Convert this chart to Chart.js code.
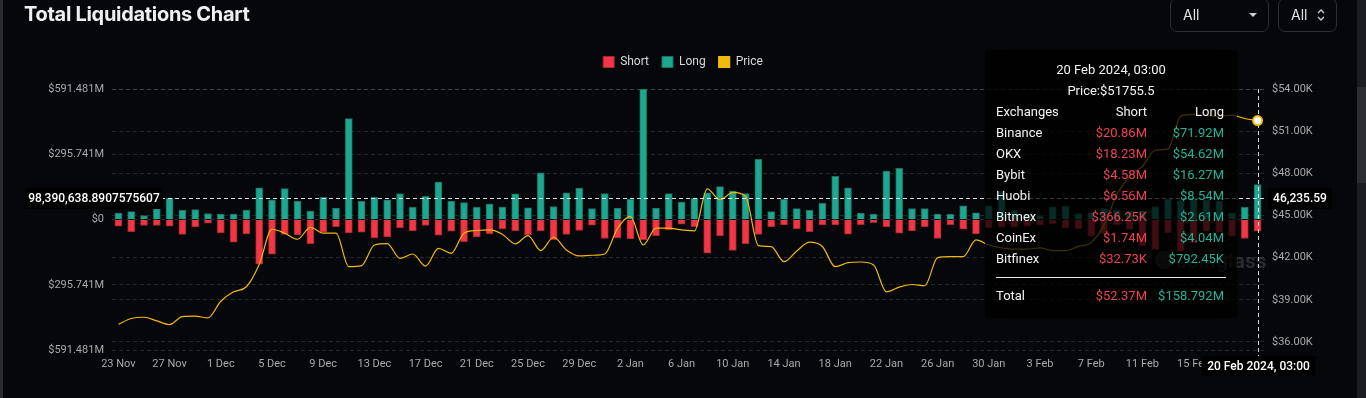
<!DOCTYPE html>
<html>
<head>
<meta charset="utf-8">
<title>Total Liquidations Chart</title>
<script src="https://cdn.jsdelivr.net/npm/chart.js@4.4.1/dist/chart.umd.min.js"></script>
<style>
  html, body { margin: 0; padding: 0; width: 1366px; height: 398px; overflow: hidden; background: #05070b; font-family: Roboto, "Noto Sans", sans-serif; }
  #wrap { position: absolute; left: 0; top: 0; width: 1366px; height: 398px; }
  #edge { position: absolute; left: 0; top: 0; width: 3px; height: 398px; background: #2a2b2f; }
  #scroll { position: absolute; left: 1357px; top: 0; width: 9px; height: 398px; background: #1c1d21; }
  #thumb { position: absolute; left: 1357px; top: 87px; width: 9px; height: 96px; background: #2c2d32; }
  #title { position: absolute; left: 24px; top: 2px; font: 700 20px Inter, sans-serif; color: #f0f0f0; letter-spacing: -0.3px; }
  .sel { position: absolute; top: -2px; height: 34px; border: 1px solid #2d2f34; border-radius: 7px; box-sizing: border-box; color: #e2e2e2; font: 14px Inter, sans-serif; line-height: 32px; }
  .sel span { position: absolute; left: 12px; top: 0; }
  .caret { position: absolute; left: 78px; top: 14px; width: 0; height: 0; border-left: 4px solid transparent; border-right: 4px solid transparent; border-top: 4px solid #cfcfcf; }
  .updown { position: absolute; left: 37px; top: 8px; }
  #tip { position: absolute; left: 985px; top: 50px; width: 252px; height: 268px; background: rgba(0, 0, 0, 0.74); color: #f2f2f2; font: 13px Roboto, sans-serif; border-radius: 2px; }
  #tip .c { position: absolute; left: 0; width: 252px; text-align: center; height: 20px; line-height: 20px; }
  #tip .row { position: absolute; left: 0; width: 252px; height: 20px; line-height: 20px; }
  #tip .n { position: absolute; left: 11px; }
  #tip .s { position: absolute; right: 90px; color: #eb4353; }
  #tip .l { position: absolute; right: 13px; color: #22b397; }
  #tip .hd .s, #tip .hd .l { color: #f2f2f2; }
  #tip .sep { position: absolute; left: 11px; top: 227px; width: 230px; height: 1px; background: #e8e8e8; }
</style>
</head>
<body>
<div id="wrap"><canvas id="liq"></canvas></div>
<div id="edge"></div>
<div id="scroll"></div>
<div id="thumb"></div>
<div id="title">Total Liquidations Chart</div>
<div class="sel" style="left:1170px;width:99px;"><span>All</span><div class="caret"></div></div>
<div class="sel" style="left:1278px;width:59px;"><span>All</span>
  <svg class="updown" width="10" height="16" viewBox="0 0 10 16"><path d="M2 6 L5 3 L8 6 M2 10 L5 13 L8 10" stroke="#cfcfcf" stroke-width="1.3" fill="none"/></svg>
</div>
<div id="tip"></div>

<script>
// daily data, 23 Nov 2023 .. 20 Feb 2024 (values in $M for liquidations, $ for price)
const monthNames = ['Jan', 'Feb', 'Mar', 'Apr', 'May', 'Jun', 'Jul', 'Aug', 'Sep', 'Oct', 'Nov', 'Dec'];
const days = [];
for (let t = Date.UTC(2023, 10, 23); t <= Date.UTC(2024, 1, 20); t += 86400000) {
    const d = new Date(t);
    days.push(d.getUTCDate() + ' ' + monthNames[d.getUTCMonth()]);
}

const tickLabels = ['23 Nov', '27 Nov', '1 Dec', '5 Dec', '9 Dec', '13 Dec', '17 Dec', '21 Dec', '25 Dec', '29 Dec',
    '2 Jan', '6 Jan', '10 Jan', '14 Jan', '18 Jan', '22 Jan', '26 Jan', '30 Jan', '3 Feb', '7 Feb', '11 Feb', '15 Feb', '19 Feb'];

const longLiq = [29, 36, 18, 50, 96, 41, 45, 27, 25, 25, 43, 143, 89, 140, 84, 38, 100, 52, 457, 82,
    100, 89, 118, 55, 105, 170, 84, 77, 55, 70, 56, 116, 53, 211, 59, 121, 142, 50, 118, 52,
    91, 591.481, 52, 117, 79, 96, 121, 149, 129, 118, 273, 36, 91, 49, 42, 73, 196, 144, 29, 24,
    220, 232, 50, 50, 24, 23, 62, 30, 62, 128, 40, 23, 18, 57, 61, 27, 30, 49, 42, 38,
    38, 59, 91, 86, 94, 89, 83, 29, 55, 158.792];

const shortLiq = [30, 55, 27, 27, 30, 68, 34, 17, 61, 103, 65, 202, 157, 68, 70, 109, 57, 33, 61, 57,
    84, 79, 38, 52, 27, 71, 53, 100, 79, 65, 43, 52, 70, 52, 91, 68, 49, 26, 86, 83,
    88, 91, 73, 47, 21, 33, 153, 74, 140, 109, 68, 32, 24, 41, 55, 24, 24, 67, 23, 14,
    32, 62, 52, 32, 86, 23, 44, 65, 37, 35, 35, 30, 25, 20, 38, 42, 75, 64, 23, 45,
    121, 136, 61, 144, 106, 53, 58, 76, 86, 52.37];

const price = [37260, 37670, 37760, 37500, 37240, 37810, 37840, 37710, 38900, 39570,
    39930, 41520, 44020, 43740, 43310, 44160, 43740, 43740, 41360, 41430,
    42900, 43000, 41950, 42260, 41400, 42660, 42310, 43740, 43930, 43980,
    43670, 42980, 43570, 42500, 43450, 42550, 42120, 42170, 42260, 44100,
    44930, 42900, 44100, 44100, 43980, 43900, 46900, 46120, 46640, 46360,
    42860, 42790, 41710, 42480, 43100, 42790, 41360, 41640, 41690, 41480,
    39570, 39900, 40090, 40000, 42000, 42070, 42070, 43260, 42900, 42700,
    42600, 42600, 42700, 42500, 42500, 42800, 43070, 44330, 46480, 47790,
    48500, 49640, 49740, 52070, 52190, 52120, 52050, 52140, 51900, 51755.5];

const leftTicks = [-591.481, -295.741, 0, 295.741, 591.481];
const rightTicks = [36000, 39000, 42000, 45000, 48000, 51000, 54000];
const legendOrder = ['Short', 'Long', 'Price'];

// hovered point shown in the reference
const hoverIndex = 89;
const hoverLabel = '20 Feb 2024, 03:00';
const crossLeft = 98390638.8907575607;
const crossLeftText = '98,390,638.8907575607';
const crossRightText = '46,235.59';

// exchange breakdown in the tooltip
const exchanges = ['Binance', 'OKX', 'Bybit', 'Huobi', 'Bitmex', 'CoinEx', 'Bitfinex'];
const exShort = ['$20.86M', '$18.23M', '$4.58M', '$6.56M', '$366.25K', '$1.74M', '$32.73K'];
const exLong = ['$71.92M', '$54.62M', '$16.27M', '$8.54M', '$2.61M', '$4.04M', '$792.45K'];
const totalShort = '$52.37M';
const totalLong = '$158.792M';

const FONT = 'Roboto, "Noto Sans", sans-serif';
const gridColor = 'rgba(255,255,255,0.13)';

// tooltip box (static, as in the screenshot)
(function buildTip() {
    const tip = document.getElementById('tip');
    let html = '<div class="c" style="top:10px">' + hoverLabel + '</div>';
    html += '<div class="c" style="top:31px">Price:$' + price[hoverIndex] + '</div>';
    html += '<div class="row hd" style="top:52px"><span class="n">Exchanges</span><span class="s">Short</span><span class="l">Long</span></div>';
    exchanges.forEach((ex, i) => {
        html += '<div class="row" style="top:' + (73 + i * 21) + 'px"><span class="n">' + ex + '</span><span class="s">' +
            exShort[i] + '</span><span class="l">' + exLong[i] + '</span></div>';
    });
    html += '<div class="sep"></div>';
    html += '<div class="row" style="top:236px"><span class="n">Total</span><span class="s">' + totalShort +
        '</span><span class="l">' + totalLong + '</span></div>';
    tip.innerHTML = html;
})();

const fmtM = v => v === 0 ? '$0' : '$' + Math.abs(v).toFixed(3) + 'M';
const fmtK = v => '$' + (v / 1000).toFixed(2) + 'K';

function tag(ctx, text, x, y, w, h) {
    ctx.fillStyle = '#000';
    ctx.fillRect(x, y, w, h);
    ctx.fillStyle = '#fff';
    ctx.textBaseline = 'middle';
    ctx.textAlign = 'center';
    ctx.fillText(text, x + w / 2, y + h / 2 + 0.5);
}

const overlay = {
    id: 'overlay',
    beforeInit(chart) {
        const fit = chart.legend.fit;
        chart.legend.fit = function () {
            fit.bind(chart.legend)();
            this.height = 46;
        };
    },
    afterDatasetsDraw(chart) {
        const { ctx, chartArea: a, scales } = chart;
        ctx.save();
        // watermark
        ctx.fillStyle = 'rgba(110,110,110,0.35)';
        ctx.font = 'bold 21px ' + FONT;
        ctx.textBaseline = 'middle';
        ctx.textAlign = 'left';
        ctx.fillText('coinglass', 1176, 263);
        ctx.beginPath();
        ctx.arc(1164, 260, 9, 0, Math.PI * 2);
        ctx.fill();

        // crosshair
        const y = Math.round(scales.y.getPixelForValue(crossLeft / 1e6)) + 0.5;
        const x = Math.round(scales.x.getPixelForValue(hoverIndex)) + 0.5;
        ctx.strokeStyle = 'rgba(255,255,255,0.85)';
        ctx.lineWidth = 1;
        ctx.setLineDash([4, 3]);
        ctx.beginPath();
        ctx.moveTo(a.left, y);
        ctx.lineTo(a.right, y);
        ctx.moveTo(x, a.top);
        ctx.lineTo(x, a.bottom + 6);
        ctx.stroke();
        ctx.setLineDash([]);

        ctx.font = '500 12px ' + FONT;
        tag(ctx, crossLeftText, 25, y - 10.5, 138, 21);
        tag(ctx, crossRightText, a.right + 4, y - 10.5, 64, 21);
        tag(ctx, hoverLabel, x - 57, a.bottom + 6, 114, 20);

        // hovered price point
        const pt = chart.getDatasetMeta(2).data[hoverIndex];
        ctx.beginPath();
        ctx.arc(pt.x, pt.y, 4.5, 0, Math.PI * 2);
        ctx.fillStyle = '#fff';
        ctx.fill();
        ctx.lineWidth = 2;
        ctx.strokeStyle = '#f0b90b';
        ctx.stroke();
        ctx.restore();
    }
};

new Chart(document.getElementById('liq'), {
    data: {
        labels: days,
        datasets: [
            {
                type: 'bar',
                label: 'Short',
                data: shortLiq.map(v => -v),
                backgroundColor: '#f23645',
                borderColor: '#a8262f',
                borderWidth: 1,
                barThickness: 7,
                yAxisID: 'y',
                order: 2
            },
            {
                type: 'bar',
                label: 'Long',
                data: longLiq,
                backgroundColor: '#1fa68f',
                borderColor: '#157363',
                borderWidth: 1,
                barThickness: 7,
                yAxisID: 'y',
                order: 1
            },
            {
                type: 'line',
                label: 'Price',
                data: price,
                borderColor: '#f0b90b',
                backgroundColor: '#f0b90b',
                borderWidth: 1.2,
                pointRadius: 0,
                cubicInterpolationMode: 'monotone',
                yAxisID: 'yPrice',
                order: 0
            }
        ]
    },
    options: {
        responsive: true,
        maintainAspectRatio: false,
        animation: false,
        events: [],
        layout: { padding: { top: 43, left: 0, right: 0, bottom: 0 } },
        plugins: {
            legend: {
                position: 'top',
                labels: {
                    color: '#d8d8d8',
                    font: { size: 12, family: FONT },
                    boxWidth: 11,
                    boxHeight: 11,
                    padding: 13,
                    sort: (a, b) => legendOrder.indexOf(a.text) - legendOrder.indexOf(b.text)
                }
            },
            tooltip: { enabled: false }
        },
        scales: {
            x: {
                stacked: true,
                grid: { display: false, drawTicks: false },
                border: { display: false },
                ticks: {
                    autoSkip: false,
                    maxRotation: 0,
                    color: '#a9a9a9',
                    font: { size: 11, family: FONT },
                    padding: 8,
                    callback(v) {
                        const l = this.getLabelForValue(v);
                        return tickLabels.includes(l) ? l : '';
                    }
                },
                afterFit(s) { s.height = 48; }
            },
            y: {
                stacked: true,
                position: 'left',
                min: leftTicks[0],
                max: leftTicks[leftTicks.length - 1],
                afterBuildTicks(s) { s.ticks = leftTicks.map(v => ({ value: v })); },
                grid: { color: gridColor, drawTicks: false },
                border: { display: false, dash: [4, 3] },
                ticks: { color: '#a9a9a9', font: { size: 11, family: FONT }, padding: 8, callback: fmtM },
                afterFit(s) { s.width = 112; }
            },
            yPrice: {
                position: 'right',
                min: 35428.6,
                max: 54000,
                afterBuildTicks(s) { s.ticks = rightTicks.map(v => ({ value: v })); },
                grid: { color: gridColor, drawTicks: false },
                border: { display: false, dash: [4, 3] },
                ticks: { color: '#a9a9a9', font: { size: 11, family: FONT }, padding: 8, callback: fmtK },
                afterFit(s) { s.width = 102; }
            }
        }
    },
    plugins: [overlay]
});
</script>
</body>
</html>
